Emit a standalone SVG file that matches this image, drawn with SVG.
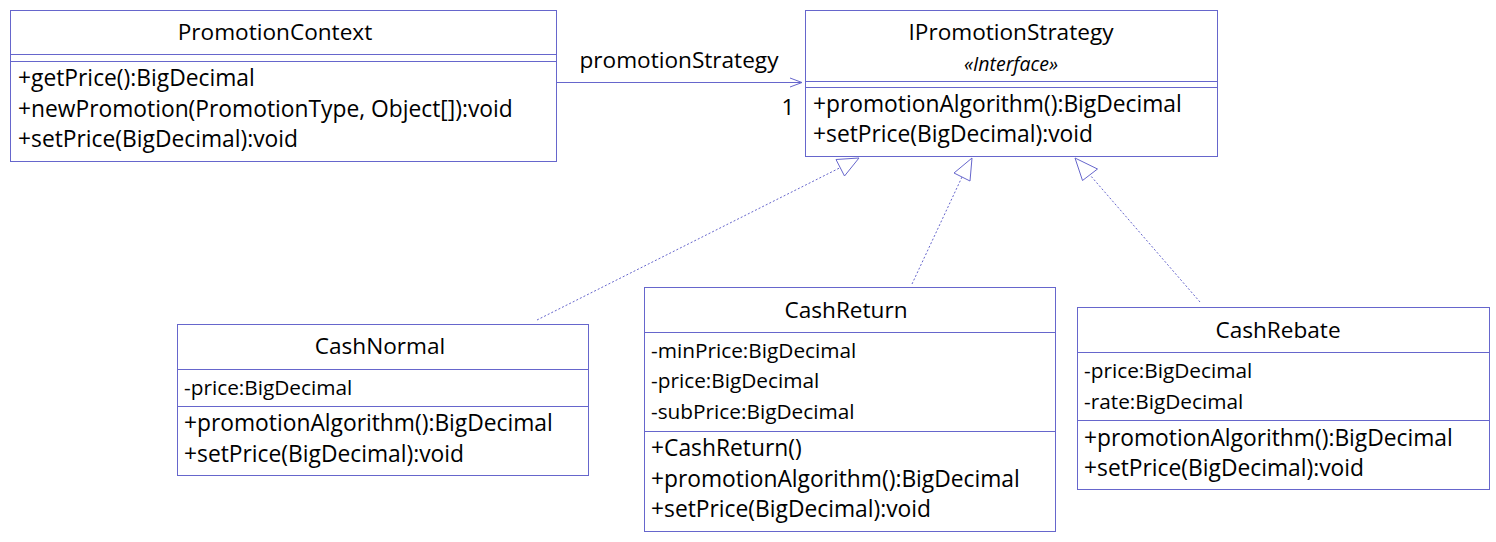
<svg xmlns="http://www.w3.org/2000/svg" width="1496" height="542" viewBox="0 0 1496 542">
<defs>
<style>
.box{fill:#ffffff;stroke:#6666cc;stroke-width:1}
.sep{stroke:#6666cc;stroke-width:1}
.t{font-family:"Open Sans","Liberation Sans",sans-serif;fill:#000000}
.title{font-size:22.6px;text-anchor:middle}
.m{font-size:22.8px}
.lbl{font-size:22.6px;text-anchor:middle}
.a{font-size:20.8px}
.st{font-size:19.5px;font-style:italic;text-anchor:middle}
.conn{stroke:#6666cc;stroke-width:1;fill:none}
.dash{stroke-dasharray:2 2}
.head{stroke:#6666cc;stroke-width:1;fill:#ffffff}
</style>
</defs>
<rect width="1496" height="542" fill="#ffffff"/>
<g id="connectors">
<line class="conn" x1="556" y1="82.5" x2="802" y2="82.5"/>
<polyline class="conn" points="790,78 802,82.5 790,87"/>
<text class="t lbl" x="679" y="68">promotionStrategy</text>
<text class="t lbl" x="788" y="115">1</text>
<line class="conn dash" x1="537" y1="320" x2="840.5" y2="167.5"/>
<polygon class="head" points="859,158 836,159.5 844.5,176"/>
<line class="conn dash" x1="912" y1="284" x2="962" y2="177"/>
<polygon class="head" points="972,158 954,173 970,181"/>
<line class="conn dash" x1="1200" y1="302" x2="1090" y2="175"/>
<polygon class="head" points="1075,158 1082.5,180.5 1097.5,169"/>
</g>
<g id="PromotionContext">
<rect class="box" x="10.5" y="10.5" width="546" height="151"/>
<line class="sep" x1="10.5" y1="54.5" x2="556.5" y2="54.5"/>
<line class="sep" x1="10.5" y1="61.5" x2="556.5" y2="61.5"/>
<text class="t title" x="275" y="40">PromotionContext</text>
<text class="t m" x="18" y="86">+getPrice():BigDecimal</text>
<text class="t m" x="18" y="116.5">+newPromotion(PromotionType, Object[]):void</text>
<text class="t m" x="18" y="147">+setPrice(BigDecimal):void</text>
</g>
<g id="IPromotionStrategy">
<rect class="box" x="805.5" y="10.5" width="412" height="146"/>
<line class="sep" x1="805.5" y1="81.5" x2="1217.5" y2="81.5"/>
<line class="sep" x1="805.5" y1="87.5" x2="1217.5" y2="87.5"/>
<text class="t title" x="1011" y="40">IPromotionStrategy</text>
<text class="t st" x="1011" y="70.5">«Interface»</text>
<text class="t m" x="813" y="111.5">+promotionAlgorithm():BigDecimal</text>
<text class="t m" x="813" y="141.5">+setPrice(BigDecimal):void</text>
</g>
<g id="CashNormal">
<rect class="box" x="177.5" y="324.5" width="411" height="151"/>
<line class="sep" x1="177.5" y1="369.5" x2="588.5" y2="369.5"/>
<line class="sep" x1="177.5" y1="406.5" x2="588.5" y2="406.5"/>
<text class="t title" x="380" y="354">CashNormal</text>
<text class="t a" x="184" y="395">-price:BigDecimal</text>
<text class="t m" x="184" y="430.5">+promotionAlgorithm():BigDecimal</text>
<text class="t m" x="184" y="461.5">+setPrice(BigDecimal):void</text>
</g>
<g id="CashReturn">
<rect class="box" x="644.5" y="287.5" width="411" height="244"/>
<line class="sep" x1="644.5" y1="332.5" x2="1055.5" y2="332.5"/>
<line class="sep" x1="644.5" y1="431.5" x2="1055.5" y2="431.5"/>
<text class="t title" x="846" y="318">CashReturn</text>
<text class="t a" x="651" y="358">-minPrice:BigDecimal</text>
<text class="t a" x="651" y="388">-price:BigDecimal</text>
<text class="t a" x="651" y="418.5">-subPrice:BigDecimal</text>
<text class="t m" x="651" y="456">+CashReturn()</text>
<text class="t m" x="651" y="486.5">+promotionAlgorithm():BigDecimal</text>
<text class="t m" x="651" y="517">+setPrice(BigDecimal):void</text>
</g>
<g id="CashRebate">
<rect class="box" x="1077.5" y="307.5" width="412" height="182"/>
<line class="sep" x1="1077.5" y1="352.5" x2="1489.5" y2="352.5"/>
<line class="sep" x1="1077.5" y1="420.5" x2="1489.5" y2="420.5"/>
<text class="t title" x="1278" y="338">CashRebate</text>
<text class="t a" x="1084" y="378">-price:BigDecimal</text>
<text class="t a" x="1084" y="408.5">-rate:BigDecimal</text>
<text class="t m" x="1084" y="446">+promotionAlgorithm():BigDecimal</text>
<text class="t m" x="1084" y="476">+setPrice(BigDecimal):void</text>
</g>
</svg>
